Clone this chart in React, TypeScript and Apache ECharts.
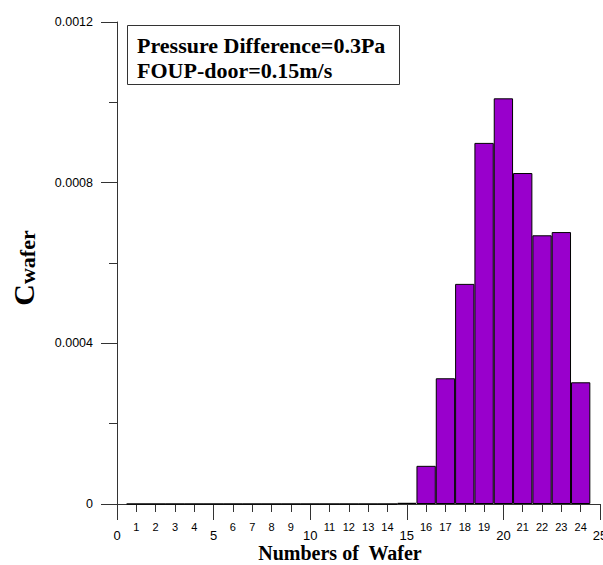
import React, { useEffect, useRef } from "react";
import * as echarts from "echarts";

const wafers = [1, 2, 3, 4, 5, 6, 7, 8, 9, 10, 11, 12, 13, 14, 15, 16, 17, 18, 19, 20, 21, 22, 23, 24];
const cwafer = [0, 0, 0, 0, 0, 0, 0, 0, 0, 0, 0, 0, 0, 0, 0.000003, 0.000095, 0.000313, 0.000548, 0.000899, 0.00101, 0.000824, 0.000669, 0.000677, 0.000303];
const yTicks = [0, 0.0004, 0.0008, 0.0012];
const legendLines = ["Pressure Difference=0.3Pa", "FOUP-door=0.15m/s"];

export default function App() {
  const ref = useRef<HTMLDivElement>(null);
  useEffect(() => {
    if (!ref.current) return;
    const chart = echarts.init(ref.current, null, { renderer: "svg" });
    const axisColor = "#333";
    const sans = "Liberation Sans";
    const serif = "Liberation Serif";
    chart.setOption({
      animation: false,
      backgroundColor: "#fff",
      grid: { left: 117, top: 22, right: 3, bottom: 61, containLabel: false, outerBoundsMode: "none" },
      xAxis: [
        {
          type: "value", min: 0, max: 25, interval: 1, position: "bottom",
          axisLine: { show: true, onZero: false, lineStyle: { color: axisColor, width: 1 } },
          axisTick: { show: true, length: 8, lineStyle: { color: axisColor } },
          splitLine: { show: false },
          axisLabel: {
            margin: 17, fontSize: 11, color: "#000", fontFamily: sans,
            showMinLabel: true, showMaxLabel: true,
            formatter: (v: number) => (v % 5 === 0 ? "" : String(v)),
          },
        },
        {
          type: "value", min: 0, max: 25, interval: 5, position: "bottom", offset: 0,
          axisLine: { show: false, onZero: false },
          axisTick: { show: true, length: 16, lineStyle: { color: axisColor } },
          splitLine: { show: false },
          axisLabel: {
            margin: 25, fontSize: 13, color: "#000", fontFamily: sans,
            showMinLabel: true, showMaxLabel: true,
            formatter: (v: number) => String(v),
          },
        },
      ],
      yAxis: {
        type: "value", min: yTicks[0], max: yTicks[yTicks.length - 1], interval: 0.0004,
        axisLine: { show: true, onZero: false, lineStyle: { color: axisColor, width: 1 } },
        axisTick: { show: true, length: 16, lineStyle: { color: axisColor } },
        minorTick: { show: true, splitNumber: 2, length: 8, lineStyle: { color: axisColor } },
        splitLine: { show: false },
        axisLabel: {
          margin: 24, fontSize: 12.5, color: "#000", fontFamily: sans,
          formatter: (v: number) => {
            const t = yTicks.find((x) => Math.abs(x - v) < 1e-9);
            const val = t === undefined ? v : t;
            return val === 0 ? "0" : val.toFixed(4);
          },
        },
      },
      series: [
        {
          type: "bar",
          xAxisIndex: 0,
          barWidth: 19.32,
          data: wafers.map((w, i) => [w, cwafer[i]]),
          itemStyle: { color: "#9900CC", borderColor: "#000", borderWidth: 1 },
        },
      ],
      graphic: [
        {
          type: "rect",
          shape: { x: 127.5, y: 25.5, width: 272, height: 59 },
          style: { fill: "#fff", stroke: "#333", lineWidth: 1 },
          z: 10,
        },
        {
          type: "text", x: 137, y: 45, z: 11,
          style: { text: legendLines[0], font: `bold 22px "${serif}"`, fill: "#000", verticalAlign: "middle" },
        },
        {
          type: "text", x: 137, y: 70, z: 11,
          style: { text: legendLines[1], font: `bold 22px "${serif}"`, fill: "#000", verticalAlign: "middle" },
        },
        {
          type: "text", x: 340, y: 553, z: 11,
          style: { text: "Numbers of  Wafer", font: `bold 20px "${serif}"`, fill: "#000", align: "center", verticalAlign: "middle" },
        },
        {
          type: "text", x: 22, y: 268, rotation: Math.PI / 2, z: 11,
          style: {
            text: "{c|C}{w|wafer}",
            align: "center", verticalAlign: "middle",
            rich: {
              c: { fontFamily: serif, fontWeight: "bold", fontSize: 30, fill: "#000", verticalAlign: "bottom", lineHeight: 32 },
              w: { fontFamily: serif, fontWeight: "bold", fontSize: 22, fill: "#000", verticalAlign: "bottom", lineHeight: 32, padding: [6, 0, 0, 0] },
            },
          },
        },
      ],
    });
    return () => chart.dispose();
  }, []);
  return <div ref={ref} style={{ position: "fixed", left: 0, top: 0, width: 603, height: 565 }} />;
}
